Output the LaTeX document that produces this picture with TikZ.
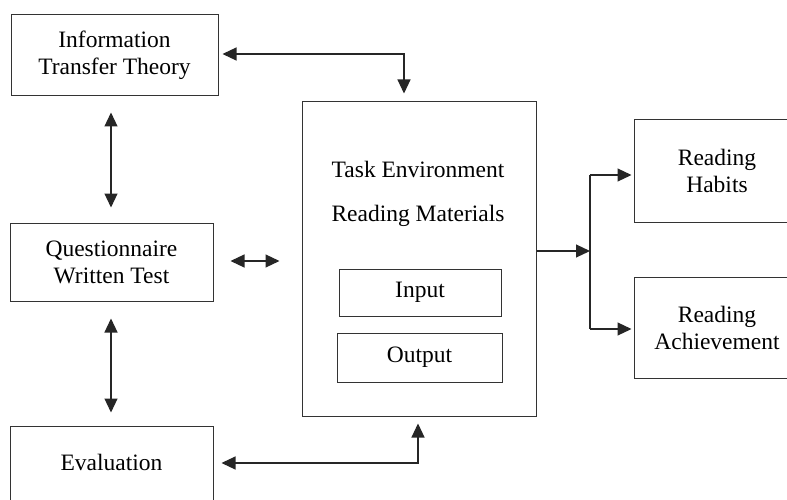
\documentclass[tikz,border=0pt]{standalone}
\usepackage{fontspec}
\setmainfont{Liberation Serif}
\usetikzlibrary{arrows.meta}
\begin{document}
\begin{tikzpicture}[x=1pt,y=-1pt,
  txt/.style={inner sep=0pt, align=center, font=\fontsize{23.5}{27}\selectfont},
  box/.style={txt, draw=black!80, line width=1pt, rectangle},
  arr/.style={draw=black!85, line width=1.1pt, -{Triangle[length=14pt,width=13pt]}},
  biarr/.style={draw=black!85, line width=1.1pt, {Triangle[length=14pt,width=13pt]}-{Triangle[length=14pt,width=13pt]}},
  ln/.style={draw=black!85, line width=1.1pt}]
\path[use as bounding box] (0,0) rectangle (787,500);
\fill[white] (0,0) rectangle (787,500);

% left column
\node[box, minimum width=207, minimum height=81] (info) at (114.5,55.5) {Information\\Transfer Theory};
\node[box, minimum width=203, minimum height=78] (quest) at (111.5,262) {Questionnaire\\Written Test};
\node[box, minimum width=203, minimum height=94] (eval) at (111.5,473) {};
\node[txt] (evaltxt) at (111.5,462) {Evaluation};

% central box
\node[box, minimum width=234, minimum height=314] (main) at (419,259) {};
\node[txt] (task) at (418,169) {Task Environment};
\node[txt] (mat) at (418,216) {Reading Materials};
\node[box, minimum width=162, minimum height=47] (input) at (420,292.5) {Input};
\node[box, minimum width=165, minimum height=49] (output) at (419.5,357.5) {Output};

% right column
\node[box, minimum width=166, minimum height=102] (habits) at (717,171) {Reading\\Habits};
\node[box, minimum width=166, minimum height=101] (ach) at (717,327.5) {Reading\\Achievement};

% connectors
\coordinate (c1) at (404,54);
\draw[biarr] ([xshift=4pt]info.east |- c1) -- (c1) -- ([yshift=8pt]main.north -| c1);
\draw[biarr] ([yshift=-16pt]info.south -| 111,0) -- ([yshift=15pt]quest.north -| 111,0);
\draw[biarr] ([xshift=17pt]quest.east |- 0,261) -- ([xshift=-22pt]main.west |- 0,261);
\draw[biarr] ([yshift=-17pt]quest.south -| 111,0) -- ([yshift=13pt]eval.north -| 111,0);
\coordinate (c2) at (418,463);
\draw[biarr] ([xshift=8pt]eval.east |- c2) -- (c2) -- ([yshift=-7pt]main.south -| c2);

\coordinate (split) at (590,251);
\coordinate (s1) at (590,175);
\coordinate (s2) at (590,329);
\draw[arr] (main.east |- split) -- (split);
\draw[ln] (s1) -- (s2);
\draw[arr] (s1) -- ([xshift=-2pt]habits.west |- s1);
\draw[arr] (s2) -- ([xshift=-2pt]ach.west |- s2);
\end{tikzpicture}
\end{document}
